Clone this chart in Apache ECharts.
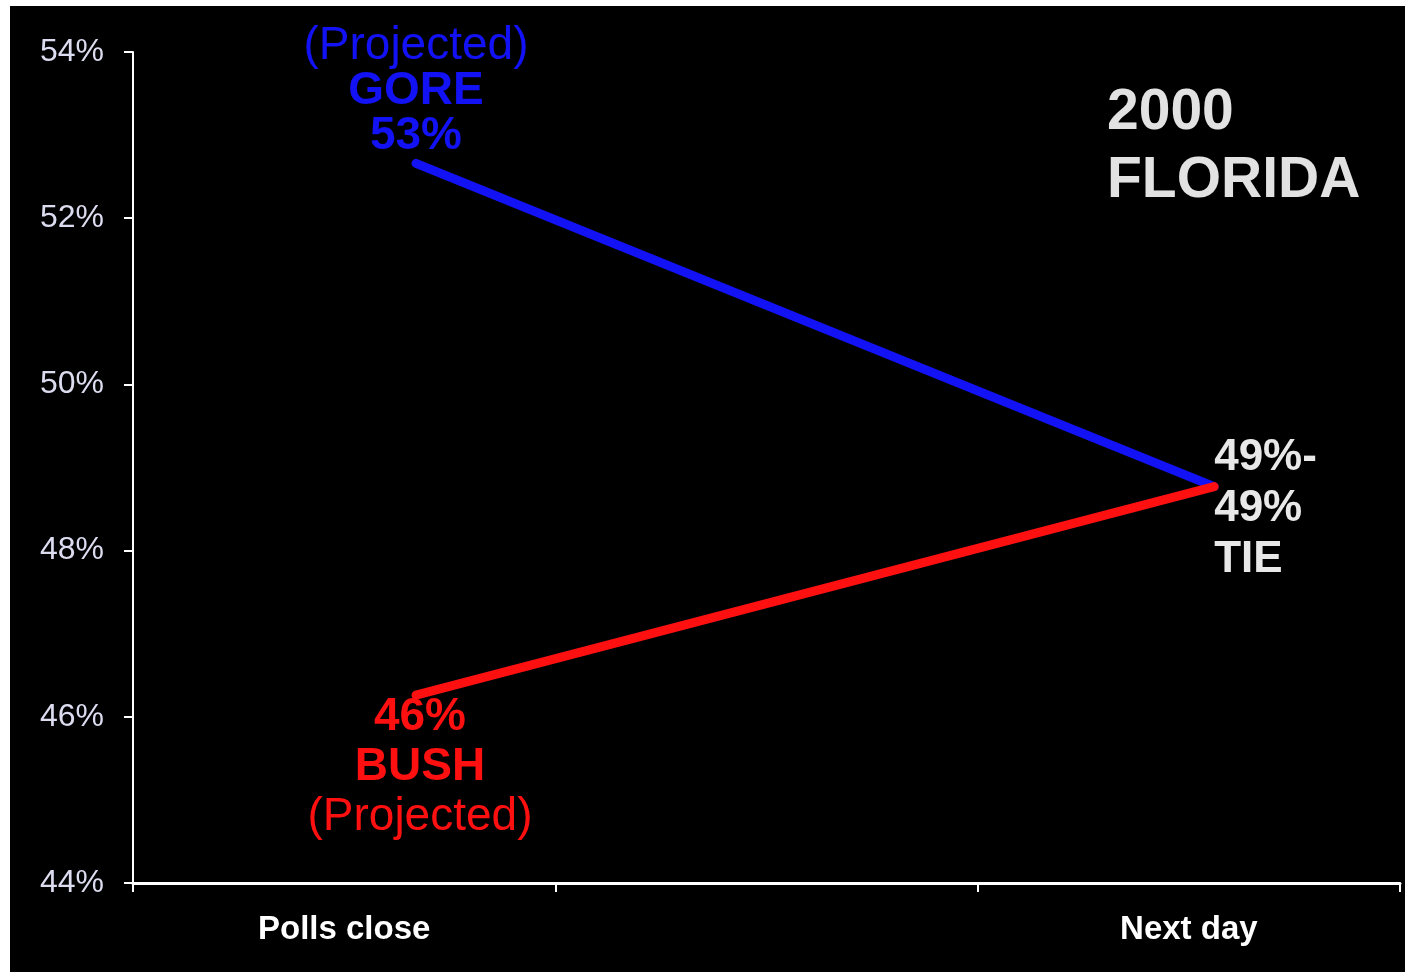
<!DOCTYPE html>
<html>
<head>
<meta charset="utf-8">
<title>2000 Florida</title>
<script src="https://cdn.jsdelivr.net/npm/echarts@6/dist/echarts.min.js"></script>
<style>
  html, body { margin: 0; padding: 0; background: #ffffff; width: 1405px; height: 972px; overflow: hidden; }
  #chart { position: absolute; left: 10px; top: 6px; width: 1395px; height: 966px; background: #000000; }
</style>
</head>
<body>
<div id="chart"></div>
<script>
// Timeline bands along the bottom axis
const stages = ['Polls close', '', 'Next day'];
// Where each reading sits along the timeline (0 = left edge, 3 = right edge)
const readingX = [0.67, 2.56];
// Vote share, percent
const goreShare = [52.66, 48.77];
const bushShare = [46.26, 48.77];
// Vertical scale
const yMin = 44, yMax = 54, yStep = 2;

const FONT = "'Liberation Sans', Arial, sans-serif";
const BLUE = '#1212f4';
const RED = '#ff1010';
const pct = v => Math.round(v) + '%';

const chart = echarts.init(document.getElementById('chart'), null, { renderer: 'canvas' });

const option = {
  backgroundColor: '#000000',
  animation: false,
  title: {
    text: '2000\nFLORIDA',
    left: 1092,
    top: 68,
    textStyle: { color: '#e2e2e2', fontFamily: FONT, fontWeight: 'bold', fontSize: 57, lineHeight: 68 }
  },
  grid: { left: 123, right: 5, top: 46, bottom: 89 },
  xAxis: [
    {
      type: 'category',
      data: stages,
      boundaryGap: true,
      axisLine: { show: true, lineStyle: { color: '#ffffff', width: 3 } },
      axisTick: { show: true, length: 9, lineStyle: { color: '#ffffff', width: 2 } },
      axisLabel: { color: '#ffffff', fontFamily: FONT, fontWeight: 'bold', fontSize: 33, margin: 30 },
      splitLine: { show: false }
    },
    { type: 'value', min: 0, max: 3, show: false }
  ],
  yAxis: {
    type: 'value',
    min: yMin,
    max: yMax,
    interval: yStep,
    axisLine: { show: true, lineStyle: { color: '#ffffff', width: 2 } },
    axisTick: { show: true, length: 9, lineStyle: { color: '#ffffff', width: 2 } },
    axisLabel: { color: '#dcdcf0', fontFamily: FONT, fontSize: 32, margin: 29, formatter: '{value}%' },
    splitLine: { show: false }
  },
  series: [
    {
      name: 'Gore',
      type: 'line',
      xAxisIndex: 1,
      data: readingX.map((x, i) => [x, goreShare[i]]),
      symbol: 'circle',
      symbolSize: 0,
      lineStyle: { color: BLUE, width: 9, cap: 'round' },
      itemStyle: { color: BLUE },
      label: {
        show: true,
        position: 'top',
        distance: 5,
        align: 'center',
        formatter: p => p.dataIndex === 0
          ? '{r|(Projected)}\n{b|GORE}\n{b|' + pct(p.value[1]) + '}'
          : '',
        rich: {
          r: { color: BLUE, fontFamily: FONT, fontSize: 46, lineHeight: 45, align: 'center' },
          b: { color: BLUE, fontFamily: FONT, fontWeight: 'bold', fontSize: 46, lineHeight: 45, align: 'center' }
        }
      },
      z: 3
    },
    {
      name: 'Bush',
      type: 'line',
      xAxisIndex: 1,
      data: readingX.map((x, i) => [x, bushShare[i]]),
      symbol: 'circle',
      symbolSize: 0,
      lineStyle: { color: RED, width: 9, cap: 'round' },
      itemStyle: { color: RED },
      label: {
        show: true,
        formatter: p => p.dataIndex === 0
          ? '{b|' + pct(p.value[1]) + '}\n{b|BUSH}\n{r|(Projected)}'
          : '{w|' + pct(goreShare[1]) + '-}\n{w|' + pct(p.value[1]) + '}\n{w|TIE}',
        rich: {
          r: { color: RED, fontFamily: FONT, fontSize: 46, lineHeight: 50, align: 'center' },
          b: { color: RED, fontFamily: FONT, fontWeight: 'bold', fontSize: 46, lineHeight: 50, align: 'center' },
          w: { color: '#e8e8e8', fontFamily: FONT, fontWeight: 'bold', fontSize: 44, lineHeight: 51, align: 'left' }
        }
      },
      z: 4
    }
  ]
};

// Start label sits under the Bush point; end label reads the tie to the right
option.series[1].data = option.series[1].data.map((d, i) => ({
  value: d,
  label: i === 0
    ? { position: 'bottom', distance: -3, align: 'center', offset: [4, 0] }
    : { position: 'right', distance: 0, offset: [0, 22], align: 'left' }
}));

chart.setOption(option);
</script>
</body>
</html>
